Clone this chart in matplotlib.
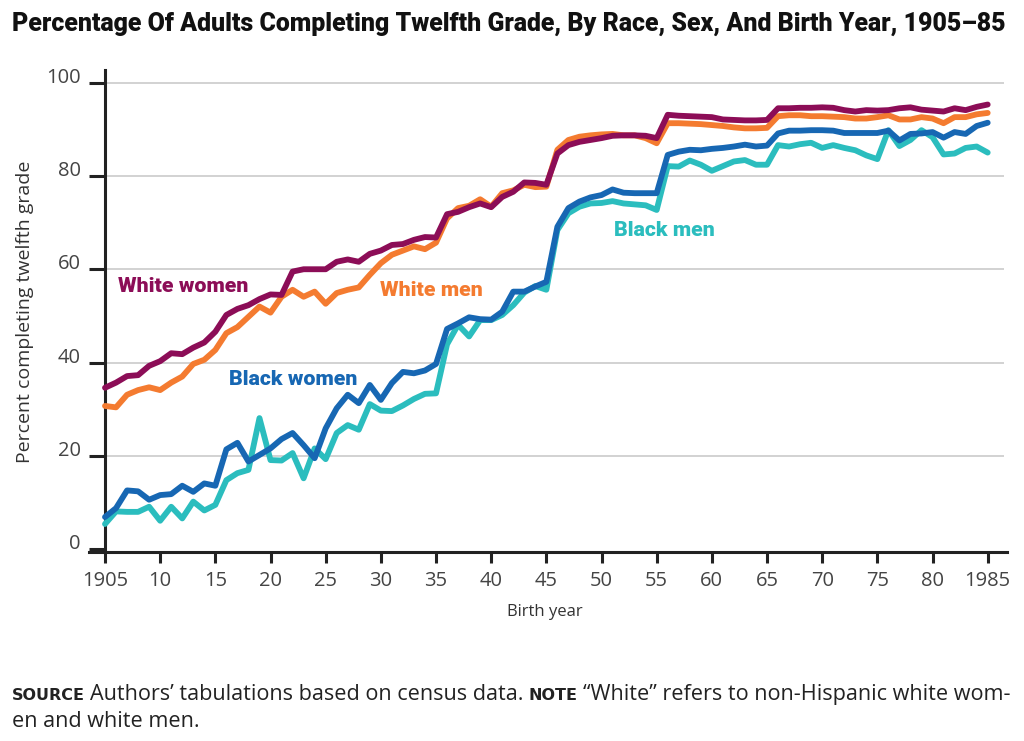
import matplotlib
matplotlib.use("Agg")
import matplotlib.pyplot as plt
from matplotlib import font_manager as fm

# ---------------- data ----------------
years = list(range(1905, 1986))

white_women = [34.6, 35.7, 37.1, 37.3, 39.3, 40.3, 42.0, 41.8, 43.2, 44.3,   # 1905-14
               46.6, 50.2, 51.5, 52.3, 53.6, 54.6, 54.5, 59.5, 60.0, 60.0,   # 1915-24
               60.0, 61.6, 62.1, 61.6, 63.3, 64.0, 65.2, 65.4, 66.3, 66.9,   # 1925-34
               66.8, 71.8, 72.3, 73.3, 74.1, 73.3, 75.5, 76.6, 78.6, 78.5,   # 1935-44
               78.1, 84.8, 86.6, 87.3, 87.7, 88.1, 88.6, 88.7, 88.7, 88.6,   # 1945-54
               88.1, 93.1, 92.9, 92.8, 92.7, 92.6, 92.1, 92.0, 91.9, 91.9,   # 1955-64
               92.0, 94.5, 94.5, 94.6, 94.6, 94.7, 94.6, 94.1, 93.8, 94.1,   # 1965-74
               94.0, 94.1, 94.5, 94.7, 94.2, 94.0, 93.8, 94.5, 94.1, 94.8,   # 1975-84
               95.3]                                                          # 1985

white_men = [30.7, 30.4, 33.1, 34.1, 34.7, 34.1, 35.7, 37.0, 39.7, 40.6,
             42.7, 46.3, 47.6, 49.8, 52.0, 50.7, 54.1, 55.6, 54.1, 55.2,
             52.6, 54.9, 55.6, 56.1, 58.8, 61.3, 63.1, 64.0, 64.9, 64.3,
             65.7, 70.9, 73.1, 73.6, 75.0, 73.4, 76.3, 76.9, 78.1, 77.6,
             77.7, 85.6, 87.7, 88.4, 88.7, 88.9, 89.0, 88.7, 88.7, 88.1,
             87.0, 91.3, 91.3, 91.2, 91.1, 90.9, 90.7, 90.4, 90.2, 90.2,
             90.3, 92.8, 93.0, 93.0, 92.8, 92.8, 92.7, 92.6, 92.3, 92.3,
             92.6, 93.0, 92.1, 92.1, 92.6, 92.3, 91.3, 92.6, 92.6, 93.2,
             93.5]

black_women = [6.9, 8.8, 12.6, 12.4, 10.6, 11.6, 11.8, 13.6, 12.3, 14.1,
               13.6, 21.4, 22.8, 18.8, 20.2, 21.6, 23.6, 24.9, 22.3, 19.5,
               25.9, 30.2, 33.1, 31.3, 35.2, 32.0, 35.6, 38.0, 37.7, 38.3,
               39.7, 47.2, 48.4, 49.7, 49.3, 49.2, 50.9, 55.2, 55.2, 56.3,
               57.3, 69.1, 73.1, 74.5, 75.4, 75.9, 77.1, 76.4, 76.3, 76.3,
               76.3, 84.5, 85.2, 85.6, 85.5, 85.8, 86.0, 86.3, 86.7, 86.3,
               86.5, 89.1, 89.7, 89.7, 89.8, 89.8, 89.7, 89.2, 89.2, 89.2,
               89.2, 89.7, 87.6, 89.0, 89.1, 89.4, 88.2, 89.4, 89.0, 90.7,
               91.4]

black_men = [5.4, 8.1, 8.0, 8.0, 9.1, 6.1, 9.1, 6.6, 10.2, 8.3,
             9.5, 14.8, 16.3, 17.0, 28.1, 19.1, 19.0, 20.6, 15.2, 21.6,
             19.3, 24.9, 26.6, 25.6, 31.1, 29.7, 29.6, 30.8, 32.2, 33.3,
             33.4, 43.9, 48.1, 45.6, 49.1, 49.1, 50.2, 52.3, 55.0, 56.4,
             55.6, 68.4, 72.0, 73.4, 74.1, 74.2, 74.6, 74.1, 73.9, 73.7,
             72.7, 82.1, 82.0, 83.3, 82.4, 81.1, 82.1, 83.1, 83.4, 82.4,
             82.4, 86.6, 86.3, 86.8, 87.1, 86.0, 86.6, 86.0, 85.5, 84.4,
             83.6, 89.8, 86.4, 87.7, 89.8, 88.3, 84.6, 84.8, 86.0, 86.3,
             85.0]

series_names = ["White women", "White men", "Black women", "Black men"]
series_values = [white_women, white_men, black_women, black_men]
series_colors = ["#8C0D57", "#F47B30", "#1767B3", "#2BBDBE"]
series_z = [6, 5, 4, 3]
# label anchor (year, value) for the inline labels
label_pos = [(1906.2, 56.4), (1929.9, 55.5), (1916.2, 36.3), (1951.1, 68.2)]

x_ticks = list(range(1905, 1986, 5))
x_tick_labels = ["1905"] + [str(v % 100) for v in x_ticks[1:-1]] + ["1985"]
y_ticks = [0, 20, 40, 60, 80, 100]

title = "Percentage Of Adults Completing Twelfth Grade, By Race, Sex, And Birth Year, 1905\u201385"


def pick(cands):
    for c in cands:
        try:
            fm.findfont(fm.FontProperties(family=c), fallback_to_default=False)
            return c
        except Exception:
            continue
    return "DejaVu Sans"


title_font = pick(["Liberation Sans Narrow", "Roboto", "DejaVu Sans"])
label_font = pick(["Liberation Sans Narrow", "Roboto", "DejaVu Sans"])
body_font = pick(["Open Sans", "Lato", "DejaVu Sans"])

W, H = 1024, 741
fig = plt.figure(figsize=(W / 100, H / 100), dpi=100)
fig.patch.set_facecolor("white")
ax = fig.add_axes([89 / W, (H - 552) / H, (1007 - 89) / W, (552 - 70) / H])
ax.set_xlim(1903.55, 1986.75)
ax.set_ylim(-0.6, 102.7)

for s in ["top", "right"]:
    ax.spines[s].set_visible(False)
ax.spines["left"].set_position(("data", 1905))
ax.spines["left"].set_linewidth(2.2)
ax.spines["bottom"].set_linewidth(2.2)
ax.spines["left"].set_color("#222222")
ax.spines["bottom"].set_color("#222222")

ax.hlines([20, 40, 60, 80, 100], 1905, 1986.5, color="#cfcfcf", lw=1.3, zorder=0)

for name, vals, col, z in zip(series_names, series_values, series_colors, series_z):
    ax.plot(years, vals, color=col, lw=4.2, zorder=z,
            solid_joinstyle="round", solid_capstyle="round")

ax.set_xticks(x_ticks)
ax.set_xticklabels(x_tick_labels, family=body_font)
ax.set_yticks(y_ticks)
ax.set_yticklabels([str(v) for v in y_ticks], family=body_font)
ax.tick_params(axis="x", direction="out", length=8, width=2.2, color="#222222",
               pad=6, labelsize=14.5, labelcolor="#444444")
ax.tick_params(axis="y", direction="out", length=11.5, width=2.2, color="#222222",
               pad=6, labelsize=14.5, labelcolor="#444444")
for lbl in ax.get_yticklabels():
    lbl.set_verticalalignment("baseline")

renderer = fig.canvas.get_renderer()


def fit_width(t, target):
    w = t.get_window_extent(renderer).width
    t.set_fontsize(t.get_fontsize() * target / w)


# inline labels
lab_objs = []
for name, col, (lx, ly) in zip(series_names, series_colors, label_pos):
    t = ax.text(lx, ly, name, color=col, fontsize=16, fontweight=800,
                family=label_font, ha="left", va="center", zorder=10)
    lab_objs.append(t)
w0 = lab_objs[0].get_window_extent(renderer).width
scale = 131.0 / w0
for t in lab_objs:
    t.set_fontsize(t.get_fontsize() * scale)

# title
tt = fig.text(12 / W, 1 - 31 / H, title, fontsize=16, fontweight=900,
              family=title_font, color="#111111", ha="left", va="baseline")
fit_width(tt, 998)

# axis labels
fig.text(25 / W, 1 - 312 / H, "Percent completing twelfth grade", rotation=90,
         ha="center", va="center", fontsize=14, color="#333333", family=body_font)
fig.text(545 / W, 1 - 612 / H, "Birth year", ha="center", va="center",
         fontsize=12, color="#333333", family=body_font)

# footer
line1 = [("SOURCE", True), ("Authors\u2019 tabulations based on census data.", False),
         ("NOTE", True), ("\u201cWhite\u201d refers to non-Hispanic white wom-", False)]


def place(pieces, base_size, y_px, x0=12):
    objs = []
    x = x0
    for txt, bold in pieces:
        if bold:
            t = fig.text(x / W, 1 - y_px / H, txt, fontsize=base_size * 0.74,
                         fontweight="bold", family="DejaVu Sans", color="#222222",
                         ha="left", va="baseline")
        else:
            t = fig.text(x / W, 1 - y_px / H, txt, fontsize=base_size,
                         family=body_font, color="#222222", ha="left", va="baseline")
        objs.append(t)
        x += t.get_window_extent(renderer).width + base_size * 0.33
    return objs, x - base_size * 0.33


objs, xend = place(line1, 15, 700)
total = xend - 12
for o in objs:
    o.remove()
size = 15 * 996 / total
objs, xend = place(line1, size, 700)
fig.text(12 / W, 1 - 727 / H, "en and white men.", fontsize=size, family=body_font,
         color="#222222", ha="left", va="baseline")

fig.savefig("out.png", dpi=100, facecolor="white")
